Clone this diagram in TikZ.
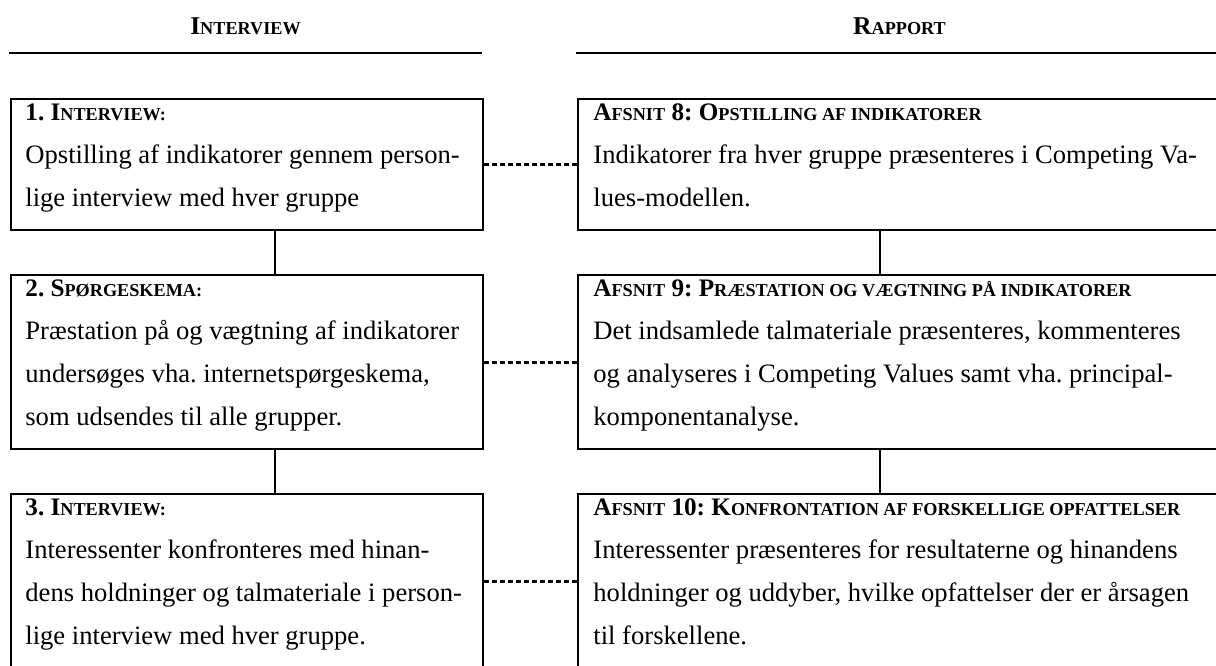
\documentclass[tikz,border=0pt]{standalone}
\usepackage{fontspec}
\setmainfont{Liberation Serif}
\frenchspacing
% small capitals for the bold headings
\newcommand\smc[1]{{\fontsize{9.1}{10}\selectfont #1}}
\newcommand\firstline{\rule{0pt}{10pt}}
\newcommand\boxhead[1]{{\fontsize{12.6}{21.5}\selectfont\bfseries #1}}
\tikzset{
  frame/.style={draw, line width=1pt, anchor=north west, inner sep=0pt, minimum width=#1},
  short/.style={minimum height=65.5pt},
  tall/.style={minimum height=87pt},
  body/.style={anchor=north west, inner sep=0pt, align=left, font=\fontsize{13.3}{21.5}\selectfont},
  head/.style={anchor=base, inner sep=0pt, font=\fontsize{12.8}{16}\selectfont\bfseries},
  rule/.style={line width=1.2pt},
  link/.style={line width=1pt},
  dotlink/.style={line width=1.5pt, dash pattern=on 2.4pt off 1.6pt}
}
\begin{document}
\begin{tikzpicture}[x=0.5pt, y=-0.5pt]
\path[use as bounding box] (0,0) rectangle (1216,665);
\clip (0,0) rectangle (1216,665);

% column titles and rules
\node[head] (hleft) at (245.5,34) {I\smc{NTERVIEW}};
\node[head] (hright) at (899.5,34) {R\smc{APPORT}};
\draw[rule] (9,53) -- (482,53);
\draw[rule] (576,53) -- (1222,53);

% left column: interview steps
\node[frame=236pt, short] (b1) at (10,98) {};
\node[body] (t1) at (25,100) {\firstline\boxhead{1. I\smc{NTERVIEW:}}\\
Opstilling af indikatorer gennem person-\\
lige interview med hver gruppe};

\node[frame=236pt, tall] (b2) at (10,274) {};
\node[body] (t2) at (25,276) {\firstline\boxhead{2. S\smc{PØRGESKEMA:}}\\
Præstation på og vægtning af indikatorer\\
undersøges vha. internetspørgeskema,\\
som udsendes til alle grupper.};

\node[frame=236pt, tall] (b3) at (10,493) {};
\node[body] (t3) at (25,495) {\firstline\boxhead{3. I\smc{NTERVIEW:}}\\
Interessenter konfronteres med hinan-\\
dens holdninger og talmateriale i person-\\
lige interview med hver gruppe.};

% right column: report sections
\node[frame=322.5pt, short] (r1) at (577,98) {};
\node[body] (s1) at (593,100) {\firstline\boxhead{A\smc{FSNIT} 8: O\smc{PSTILLING AF INDIKATORER}}\\
Indikatorer fra hver gruppe præsenteres i Competing Va-\\
lues-modellen.};

\node[frame=322.5pt, tall] (r2) at (577,274) {};
\node[body] (s2) at (593,276) {\firstline\boxhead{A\smc{FSNIT} 9: P\smc{RÆSTATION OG VÆGTNING PÅ INDIKATORER}}\\
Det indsamlede talmateriale præsenteres, kommenteres\\
og analyseres i Competing Values samt vha. principal-\\
komponentanalyse.};

\node[frame=322.5pt, tall] (r3) at (577,493) {};
\node[body] (s3) at (593,495) {\firstline\boxhead{A\smc{FSNIT} 10: K\smc{ONFRONTATION AF FORSKELLIGE OPFATTELSER}}\\
Interessenter præsenteres for resultaterne og hinandens\\
holdninger og uddyber, hvilke opfattelser der er årsagen\\
til forskellene.};

% vertical links within each column
\coordinate (lx) at (275,0);
\coordinate (rx) at (880,0);
\draw[link] (b1.south -| lx) -- (b2.north -| lx);
\draw[link] (b2.south -| lx) -- (b3.north -| lx);
\draw[link] (r1.south -| rx) -- (r2.north -| rx);
\draw[link] (r2.south -| rx) -- (r3.north -| rx);

% dotted links between the columns
\draw[dotlink] (b1.east) -- (r1.west);
\draw[dotlink] (b2.east) -- (r2.west);
\draw[dotlink] (b3.east) -- (r3.west);
\end{tikzpicture}
\end{document}
